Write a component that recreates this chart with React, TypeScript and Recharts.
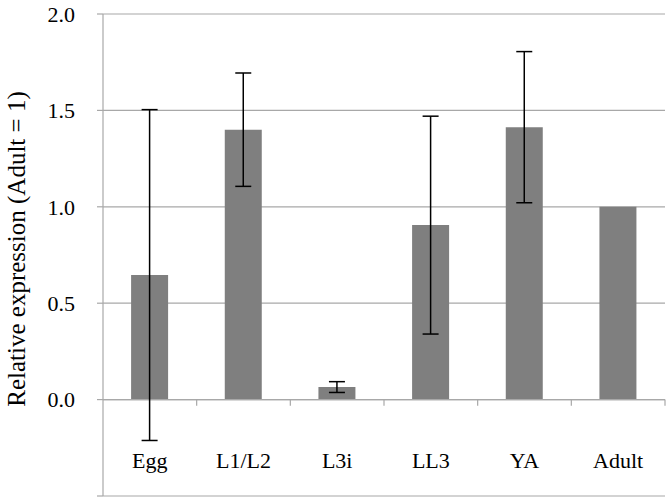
import React from 'react';
import { BarChart, Bar, XAxis, YAxis, CartesianGrid, ErrorBar, ReferenceLine } from 'recharts';

const categories = ['Egg', 'L1/L2', 'L3i', 'LL3', 'YA', 'Adult'];
const values = [0.646, 1.4, 0.065, 0.905, 1.413, 1.0];
const errors = [0.858, 0.294, 0.028, 0.565, 0.392, 0.0];
const yTicks = [-0.5, 0, 0.5, 1.0, 1.5, 2.0];
const yTitle = 'Relative expression (Adult = 1)';

const data = categories.map((c, i) => ({ name: c, value: values[i], err: errors[i] }));

const FONT = "'Liberation Serif', 'Times New Roman', 'DejaVu Serif', serif";
const GRID = '#a8a8a8';

const CatTick = (props: any) => {
  const { x, y, payload } = props;
  return (
    <text x={x} y={y - 36} textAnchor="middle" fontFamily={FONT} fontSize={22} fill="#000">
      {payload.value}
    </text>
  );
};

const YTitle = (props: any) => {
  const vb = props.viewBox;
  const cx = vb.x + 16;
  const cy = vb.y + vb.height / 2 - 6;
  return (
    <text
      x={cx}
      y={cy}
      transform={`rotate(-90, ${cx}, ${cy})`}
      textAnchor="middle"
      dominantBaseline="central"
      fontFamily={FONT}
      fontSize={25}
      fill="#000"
    >
      {yTitle}
    </text>
  );
};

export default function App() {
  return (
    <div style={{ position: 'absolute', left: 0, top: 0, width: 672, height: 502, background: '#fff' }}>
      <BarChart
        width={672}
        height={502}
        data={data}
        margin={{ top: 14, right: 7, left: 0, bottom: 0 }}
        barCategoryGap="30%"
      >
        <CartesianGrid horizontal vertical={false} stroke={GRID} strokeWidth={1.2} />
        <XAxis
          dataKey="name"
          height={6}
          axisLine={false}
          tickLine={false}
          tick={<CatTick />}
          interval={0}
        />
        <YAxis
          width={103}
          domain={[-0.5, 2.0]}
          ticks={yTicks}
          interval={0}
          allowDataOverflow
          axisLine={{ stroke: GRID, strokeWidth: 1.2 }}
          tickLine={{ stroke: GRID, strokeWidth: 1.2 }}
          tickSize={6}
          tickMargin={22}
          tickFormatter={(v: number) => (v < 0 ? '' : v.toFixed(1))}
          tick={{ fontFamily: FONT, fontSize: 22, fill: '#000' }}
          label={<YTitle />}
        />
        <ReferenceLine y={0} stroke={GRID} strokeWidth={1.2} />
        {categories.map((c) => (
          <ReferenceLine
            key={c}
            segment={[{ x: c, y: 0 }, { x: c, y: -0.032 }]}
            position="end"
            stroke={GRID}
            strokeWidth={1.2}
          />
        ))}
        <Bar dataKey="value" fill="#7f7f7f" isAnimationActive={false}>
          <ErrorBar dataKey="err" width={8} stroke="#000" strokeWidth={1.5} direction="y" />
        </Bar>
      </BarChart>
    </div>
  );
}
